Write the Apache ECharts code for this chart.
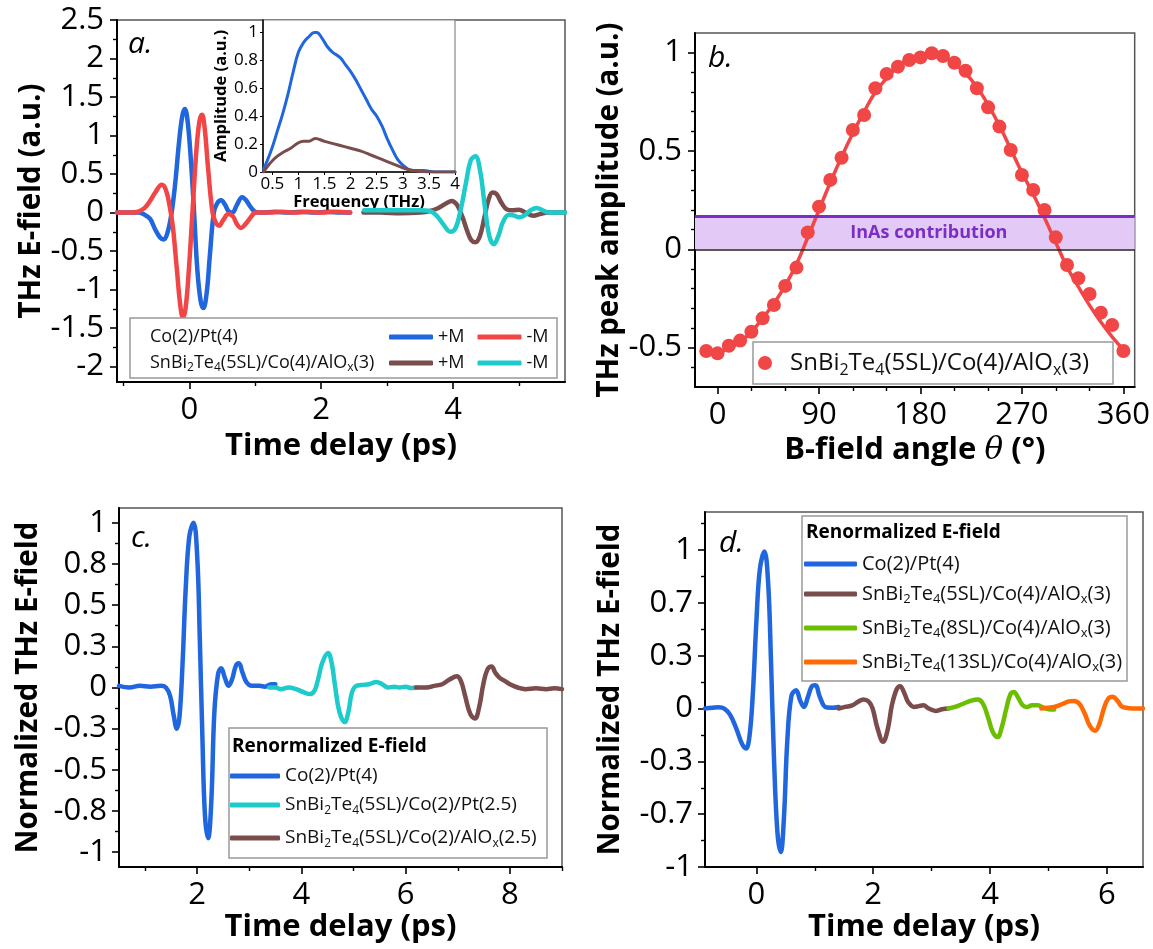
<!DOCTYPE html>
<html><head><meta charset="utf-8">
<script src="https://cdn.jsdelivr.net/npm/echarts@6.0.0/dist/echarts.min.js"></script>
<style>html,body{margin:0;padding:0;background:#fff}#chart{width:1153px;height:949px}</style>
</head><body><div id="chart"></div>
<script>
// ---------- DATA ----------
// Panel a: THz E-field vs time delay (ps)
const aCoPlus = [[-1.1,0],[-0.9,0],[-0.78,0.0],[-0.7,-0.02],[-0.6,-0.08],[-0.52,-0.22],[-0.45,-0.32],[-0.39,-0.35],[-0.34,-0.28],[-0.28,-0.05],[-0.22,0.35],[-0.16,0.9],[-0.11,1.25],[-0.07,1.345],[-0.03,1.2],[0.02,0.7],[0.07,0.0],[0.12,-0.75],[0.17,-1.15],[0.21,-1.24],[0.26,-1.05],[0.31,-0.55],[0.37,0.0],[0.42,0.12],[0.48,0.16],[0.54,0.1],[0.6,0.01],[0.65,0.0],[0.72,0.1],[0.8,0.2],[0.86,0.16],[0.93,0.07],[1.0,0.01],[1.1,0.0],[1.3,0.01],[1.5,0.0],[1.7,0.01],[1.9,0.0],[2.1,0.01],[2.3,0.0],[2.44,0.0]];
const aCoMinus = [[-1.1,0],[-0.9,0],[-0.78,0.01],[-0.68,0.06],[-0.6,0.15],[-0.52,0.26],[-0.42,0.36],[-0.36,0.3],[-0.3,0.08],[-0.25,-0.2],[-0.19,-0.75],[-0.14,-1.2],[-0.1,-1.36],[-0.06,-1.25],[-0.01,-0.75],[0.045,0.0],[0.1,0.75],[0.15,1.18],[0.19,1.27],[0.23,1.1],[0.28,0.6],[0.35,0.0],[0.4,-0.13],[0.45,-0.17],[0.51,-0.1],[0.59,-0.02],[0.66,-0.05],[0.72,-0.15],[0.78,-0.2],[0.85,-0.15],[0.93,-0.06],[1.01,0.0],[1.2,0.0],[1.4,0.01],[1.6,0.0],[1.8,0.01],[2.0,0.0],[2.2,0.01],[2.44,0.0]];
const aSnPlus = [[2.64,0.0],[2.9,0.0],[3.2,-0.01],[3.5,0.0],[3.65,0.02],[3.78,0.06],[3.9,0.12],[3.98,0.15],[4.06,0.1],[4.14,-0.05],[4.22,-0.25],[4.28,-0.36],[4.34,-0.385],[4.41,-0.3],[4.48,-0.05],[4.54,0.17],[4.6,0.26],[4.66,0.24],[4.74,0.12],[4.82,0.04],[4.9,0.03],[5.0,0.035],[5.1,0.0],[5.22,-0.04],[5.32,-0.02],[5.45,0.0],[5.7,0.0]];
const aSnMinus = [[2.65,0.03],[2.9,0.03],[3.2,0.03],[3.5,0.03],[3.65,0.02],[3.75,-0.04],[3.85,-0.15],[3.96,-0.25],[4.04,-0.2],[4.12,0.05],[4.2,0.4],[4.27,0.68],[4.34,0.73],[4.41,0.55],[4.48,0.1],[4.55,-0.3],[4.62,-0.41],[4.69,-0.3],[4.76,-0.12],[4.85,-0.03],[4.93,-0.04],[5.0,-0.06],[5.08,-0.04],[5.18,0.03],[5.27,0.06],[5.36,0.03],[5.45,0.0],[5.55,0.0],[5.7,0.0]];
// Inset: amplitude spectra vs frequency (THz)
const insetCo = [[0.33,0.02],[0.4,0.08],[0.5,0.18],[0.6,0.3],[0.7,0.42],[0.8,0.56],[0.9,0.72],[1.0,0.86],[1.1,0.93],[1.2,0.97],[1.3,1.0],[1.35,1.0],[1.45,0.96],[1.55,0.9],[1.65,0.86],[1.8,0.82],[1.9,0.77],[2.0,0.72],[2.1,0.66],[2.2,0.59],[2.3,0.52],[2.4,0.45],[2.5,0.4],[2.6,0.33],[2.7,0.24],[2.8,0.16],[2.9,0.09],[3.0,0.05],[3.1,0.02],[3.2,0.01],[3.4,0.01],[3.6,0.0],[4.0,0.0]];
const insetSn = [[0.33,0.0],[0.45,0.06],[0.55,0.1],[0.7,0.14],[0.85,0.17],[1.0,0.21],[1.1,0.22],[1.2,0.22],[1.32,0.24],[1.5,0.22],[1.7,0.2],[1.8,0.19],[2.0,0.17],[2.2,0.15],[2.4,0.12],[2.6,0.09],[2.8,0.06],[3.0,0.03],[3.2,0.01],[3.5,0.0],[4.0,0.0]];
// Panel b: peak amplitude vs B-field angle
const bAngles = [-10,0,10,20,30,40,50,60,70,80,90,100,110,120,130,140,150,160,170,180,190,200,210,220,230,240,250,260,270,280,290,300,310,320,330,340,350,360];
const bPeak = [-0.517,-0.529,-0.49,-0.464,-0.419,-0.351,-0.283,-0.186,-0.093,0.086,0.217,0.353,0.466,0.607,0.683,0.819,0.892,0.929,0.963,0.976,0.997,0.983,0.949,0.908,0.819,0.722,0.624,0.505,0.378,0.302,0.2,0.061,-0.08,-0.147,-0.227,-0.322,-0.385,-0.517];
const bFitAngles = [0,10,20,30,40,50,60,70,80,90,100,110,120,130,140,150,160,170,180,190,200,210,220,230,240,250,260,270,280,290,300,310,320,330,340,350,360];
const bFit = [-0.525,-0.505,-0.47,-0.42,-0.35,-0.275,-0.185,-0.075,0.06,0.2,0.34,0.47,0.59,0.7,0.8,0.87,0.93,0.97,0.99,0.995,0.98,0.945,0.895,0.825,0.735,0.63,0.51,0.39,0.28,0.16,0.035,-0.09,-0.19,-0.285,-0.37,-0.445,-0.51];
const bInAsLevel = 0.165;
// Panel c: normalized E-field vs time delay
const cCoPt = [[0.5,0.01],[0.7,0.0],[0.9,0.01],[1.1,0.005],[1.3,0.01],[1.4,0.0],[1.48,-0.05],[1.55,-0.17],[1.61,-0.25],[1.66,-0.18],[1.72,0.15],[1.78,0.6],[1.85,0.92],[1.93,1.0],[2.0,0.8],[2.05,0.3],[2.1,-0.3],[2.15,-0.78],[2.21,-0.915],[2.27,-0.7],[2.33,-0.15],[2.4,0.08],[2.46,0.117],[2.53,0.06],[2.6,0.01],[2.67,0.05],[2.74,0.13],[2.8,0.147],[2.87,0.09],[2.95,0.03],[3.05,0.01],[3.2,0.01],[3.3,0.005],[3.42,0.02],[3.5,0.02]];
const cSnPt = [[3.38,0.0],[3.5,0.0],[3.6,-0.01],[3.75,0.0],[3.9,-0.01],[4.05,-0.03],[4.16,-0.04],[4.25,-0.02],[4.32,0.05],[4.4,0.15],[4.51,0.21],[4.58,0.15],[4.65,0.0],[4.73,-0.15],[4.83,-0.21],[4.9,-0.15],[4.97,-0.03],[5.05,0.01],[5.15,0.015],[5.3,0.02],[5.44,0.034],[5.55,0.02],[5.66,0.0],[5.78,0.005],[5.88,0.0],[6.0,0.005],[6.1,-0.003],[6.2,0.0]];
const cSnAlO = [[6.2,0.0],[6.4,0.0],[6.55,0.01],[6.7,0.02],[6.85,0.05],[6.98,0.068],[7.06,0.04],[7.14,-0.05],[7.24,-0.16],[7.33,-0.188],[7.41,-0.12],[7.49,0.02],[7.57,0.11],[7.65,0.128],[7.72,0.09],[7.8,0.06],[7.9,0.04],[8.0,0.02],[8.15,0.0],[8.3,-0.01],[8.5,-0.005],[8.7,-0.01],[8.85,-0.005],[9.0,-0.01]];
// Panel d
const dCoPt = [[-0.88,0.0],[-0.75,0.005],[-0.65,0.008],[-0.55,0.0],[-0.45,-0.04],[-0.35,-0.12],[-0.25,-0.22],[-0.18,-0.253],[-0.12,-0.18],[-0.06,0.1],[0.0,0.55],[0.06,0.88],[0.137,0.99],[0.2,0.8],[0.25,0.3],[0.3,-0.3],[0.36,-0.78],[0.417,-0.905],[0.47,-0.7],[0.53,-0.2],[0.6,0.08],[0.68,0.116],[0.75,0.05],[0.815,0.01],[0.88,0.07],[0.95,0.14],[1.01,0.147],[1.08,0.08],[1.15,0.02],[1.21,0.006],[1.3,0.005],[1.41,0.01]];
const d5SL = [[1.41,0.0],[1.52,0.01],[1.64,0.02],[1.75,0.045],[1.83,0.057],[1.92,0.045],[1.99,0.0],[2.07,-0.12],[2.17,-0.21],[2.25,-0.13],[2.32,0.02],[2.4,0.12],[2.46,0.141],[2.53,0.1],[2.6,0.04],[2.7,0.01],[2.78,0.015],[2.86,0.02],[2.95,0.0],[3.07,-0.015],[3.18,-0.005],[3.29,0.0]];
const d8SL = [[3.29,0.0],[3.4,0.01],[3.54,0.03],[3.68,0.05],[3.79,0.057],[3.88,0.03],[3.97,-0.06],[4.05,-0.15],[4.13,-0.18],[4.2,-0.12],[4.28,0.0],[4.35,0.09],[4.41,0.105],[4.48,0.07],[4.56,0.02],[4.63,0.01],[4.72,0.02],[4.82,0.02],[4.92,0.005],[5.0,-0.004],[5.1,-0.006]];
const d13SL = [[4.88,0.0],[5.0,0.005],[5.1,0.01],[5.25,0.03],[5.35,0.045],[5.44,0.048],[5.53,0.03],[5.62,-0.03],[5.71,-0.11],[5.8,-0.14],[5.87,-0.1],[5.95,0.0],[6.02,0.06],[6.1,0.074],[6.18,0.05],[6.25,0.015],[6.31,0.006],[6.45,0.0],[6.62,0.0]];

// Ticks
const aXTicks = [0,2,4], aXMinor = [-1,1,3,5];
const aYTicks = [-2,-1.5,-1,-0.5,0,0.5,1,1.5,2,2.5], aYMinor = [-1.75,-1.25,-0.75,-0.25,0.25,0.75,1.25,1.75,2.25];
const insetXTicks = [0.5,1,1.5,2,2.5,3,3.5,4];
const insetYTicks = [0,0.2,0.4,0.6,0.8,1], insetYMinor = [0.1,0.3,0.5,0.7,0.9];
const bXTicks = [0,90,180,270,360], bXMinor = [30,60,120,150,210,240,300,330];
const bYTicks = [-0.5,0,0.5,1], bYMinor = [-0.6,-0.4,-0.3,-0.2,-0.1,0.1,0.2,0.3,0.4,0.6,0.7,0.8,0.9];
const cXTicks = [2,4,6,8], cXMinor = [1,3,5,7,9];
const cYTicks = [-1,-0.75,-0.5,-0.25,0,0.25,0.5,0.75,1];
const cYLabels = ['-1','-0.8','-0.5','-0.3','0','0.3','0.5','0.8','1'];
const cYMinor = [-0.875,-0.625,-0.375,-0.125,0.125,0.375,0.625,0.875];
const dXTicks = [0,2,4,6], dXMinor = [1,3,5];
const dYTicks = [-1,-0.6667,-0.3333,0,0.3333,0.6667,1];
const dYLabels = ['-1','-0.7','-0.3','0','0.3','0.7','1'];
const dYMinor = [-0.8333,-0.5,-0.1667,0.1667,0.5,0.8333,1.1667];

// Legend labels
const legendNames = ['aBlue','aRed','aBrown','aCyan','bPts','cBlue','cCyan','cBrown','dBlue','dBrown','dGreen','dOrange'];
const legendTexts = ['+M','-M','+M','-M',
  '{n|SnBi}{s|2}{n|Te}{s|4}{n|(5SL)/Co(4)/AlO}{s|x}{n|(3)}',
  '{n|Co(2)/Pt(4)}',
  '{n|SnBi}{s|2}{n|Te}{s|4}{n|(5SL)/Co(2)/Pt(2.5)}',
  '{n|SnBi}{s|2}{n|Te}{s|4}{n|(5SL)/Co(2)/AlO}{s|x}{n|(2.5)}',
  '{n|Co(2)/Pt(4)}',
  '{n|SnBi}{s|2}{n|Te}{s|4}{n|(5SL)/Co(4)/AlO}{s|x}{n|(3)}',
  '{n|SnBi}{s|2}{n|Te}{s|4}{n|(8SL)/Co(4)/AlO}{s|x}{n|(3)}',
  '{n|SnBi}{s|2}{n|Te}{s|4}{n|(13SL)/Co(4)/AlO}{s|x}{n|(3)}'];
const aRowLabels = ['Co(2)/Pt(4)', '{n|SnBi}{s|2}{n|Te}{s|4}{n|(5SL)/Co(4)/AlO}{s|x}{n|(3)}'];
const legendTitle = 'Renormalized E-field';

// ---------- STYLE ----------
const FF = "'Open Sans', sans-serif";
const C = {blue:'#1F66DF', red:'#F24646', brown:'#7A4C4C', cyan:'#1DCBCB', green:'#6BBE00', orange:'#FF6A05', dot:'#F04646', purple:'#7B2EC4', band:'#E3CAF6'};
const TICK = 31, XTITLE = 31, YTITLE = 29.5;

function lab(ticks, labels) {
  return v => { let bi = 0; ticks.forEach((t,i)=>{ if (Math.abs(t-v) < Math.abs(ticks[bi]-v)) bi = i; }); return labels[bi]; };
}
function rich(fs, lh) {
  return { n:{fontSize:fs, fontFamily:FF, color:'#111', lineHeight:lh},
           s:{fontSize:Math.round(fs*0.65), fontFamily:FF, color:'#111', lineHeight:Math.round(fs*0.65), verticalAlign:'bottom'} };
}
const nameMap = {}; legendNames.forEach((n,i)=>nameMap[n]=legendTexts[i]);

function mainAxis(dim, grid, min, max, ticks, opts) {
  opts = opts || {};
  return Object.assign({
    type:'value', gridIndex:grid, min:min, max:max, position: dim==='x'?'bottom':'left',
    axisLine:{show:true, onZero:false, lineStyle:{color:'#000', width:2}},
    axisTick:{show:true, inside:false, length:7, customValues:ticks, lineStyle:{color:'#000', width:1.6}},
    axisLabel:{show:true, customValues:ticks, fontFamily:FF, fontSize:TICK, color:'#000', margin:13},
    splitLine:{show:false},
    nameLocation:'middle',
    nameTextStyle:{fontFamily:FF, fontSize: dim==='x'?XTITLE:YTITLE, fontWeight:'bold', color:'#000'}
  }, opts);
}
function minorAxis(dim, grid, min, max, ticks) {
  return {type:'value', gridIndex:grid, min:min, max:max, position: dim==='x'?'bottom':'left', offset:0,
    axisLine:{show:false, onZero:false}, axisTick:{show:true, length:4, customValues:ticks, lineStyle:{color:'#000', width:1.4}},
    axisLabel:{show:false}, splitLine:{show:false}};
}

const xAxes = [
  mainAxis('x',0,-1.1,5.7,aXTicks,{name:'Time delay (ps)', nameGap:49}),
  minorAxis('x',0,-1.1,5.7,aXMinor),
  mainAxis('x',1,0.32,4,insetXTicks,{name:'Frequency (THz)', nameGap:19,
     axisTick:{show:true,length:3,customValues:insetXTicks,lineStyle:{color:'#000',width:1}},
     axisLine:{show:true,onZero:false,lineStyle:{color:'#000',width:1.5}},
     axisLabel:{customValues:insetXTicks, fontFamily:FF, fontSize:17, color:'#000', margin:4},
     nameTextStyle:{fontFamily:FF, fontSize:16.5, fontWeight:'bold', color:'#000'}}),
  mainAxis('x',2,-20,370,bXTicks,{name:'B-field angle {i|θ} (°)', nameGap:48,
     nameTextStyle:{fontFamily:FF, fontSize:XTITLE, fontWeight:'bold', color:'#000',
       rich:{i:{fontFamily:"'DejaVu Serif', serif", fontStyle:'italic', fontWeight:'normal', fontSize:XTITLE, color:'#000'}}}}),
  minorAxis('x',2,-20,370,bXMinor),
  mainAxis('x',3,0.5,9,cXTicks,{name:'Time delay (ps)', nameGap:44}),
  minorAxis('x',3,0.5,9,cXMinor),
  mainAxis('x',4,-0.88,6.62,dXTicks,{name:'Time delay (ps)', nameGap:42}),
  minorAxis('x',4,-0.88,6.62,dXMinor)
];
const yAxes = [
  mainAxis('y',0,-2.2,2.5,aYTicks,{name:'THz E-field (a.u.)', nameGap:69}),
  minorAxis('y',0,-2.2,2.5,aYMinor),
  mainAxis('y',1,0,1.09,insetYTicks,{name:'Amplitude (a.u.)', nameGap:30,
     axisTick:{show:true,length:3,customValues:insetYTicks,lineStyle:{color:'#000',width:1}},
     axisLine:{show:true,onZero:false,lineStyle:{color:'#000',width:1.5}},
     axisLabel:{customValues:insetYTicks, fontFamily:FF, fontSize:17, color:'#000', margin:5},
     nameTextStyle:{fontFamily:FF, fontSize:16.5, fontWeight:'bold', color:'#000'}}),
  mainAxis('y',2,-0.7,1.1,bYTicks,{name:'THz peak amplitude (a.u.)', nameGap:66}),
  minorAxis('y',2,-0.7,1.1,bYMinor),
  mainAxis('y',3,-1.09,1.09,cYTicks,{name:'Normalized THz E-field', nameGap:75,
     axisLabel:{customValues:cYTicks, formatter:lab(cYTicks,cYLabels), fontFamily:FF, fontSize:TICK, color:'#000', margin:12}}),
  minorAxis('y',3,-1.09,1.09,cYMinor),
  mainAxis('y',4,-1,1.24,dYTicks,{name:'Normalized THz E-field', nameGap:79,
     axisLabel:{customValues:dYTicks, formatter:lab(dYTicks,dYLabels), fontFamily:FF, fontSize:TICK, color:'#000', margin:12}}),
  minorAxis('y',4,-1,1.24,dYMinor)
];

function wave(name, data, color, axisIdx, width) {
  return {name:name, type:'line', xAxisIndex:axisIdx, yAxisIndex:axisIdx, data:data, showSymbol:false, symbol:'none',
    smooth:0.4, lineStyle:{color:color, width:width||4.5, cap:'round', join:'round'}, itemStyle:{color:color}, z:2};
}

const series = [
  wave('aBlue', aCoPlus, C.blue, 0), wave('aRed', aCoMinus, C.red, 0),
  wave('aBrown', aSnPlus, C.brown, 0), wave('aCyan', aSnMinus, C.cyan, 0),
  wave('insetBlue', insetCo, C.blue, 2, 3), wave('insetBrown', insetSn, C.brown, 2, 3),
  {name:'bFit', type:'line', xAxisIndex:3, yAxisIndex:3, data:bFitAngles.map((a,i)=>[a,bFit[i]]),
    showSymbol:false, symbol:'none', smooth:0.4, lineStyle:{color:C.dot, width:3.5}, z:2,
    markArea:{silent:true, itemStyle:{color:C.band}, label:{show:true, position:'inside', offset:[14,0], color:C.purple, fontFamily:FF, fontWeight:'bold', fontSize:18},
      data:[[{yAxis:0, name:'InAs contribution'},{yAxis:bInAsLevel}]]},
    markLine:{silent:true, symbol:['none','none'], label:{show:false},
      data:[{yAxis:0, lineStyle:{color:'#222', width:1.5, type:'solid'}},{yAxis:bInAsLevel, lineStyle:{color:C.purple, width:3, type:'solid'}}]}},
  {name:'bPts', type:'scatter', xAxisIndex:3, yAxisIndex:3, data:bAngles.map((a,i)=>[a,bPeak[i]]), symbol:'circle', symbolSize:14, itemStyle:{color:C.dot, opacity:1}, z:4},
  wave('cBlue', cCoPt, C.blue, 5), wave('cCyan', cSnPt, C.cyan, 5), wave('cBrown', cSnAlO, C.brown, 5),
  wave('dBlue', dCoPt, C.blue, 7), wave('dBrown', d5SL, C.brown, 7), wave('dGreen', d8SL, C.green, 7), wave('dOrange', d13SL, C.orange, 7)
];

function lg(names, left, top, fs, iw, ih, icon, lh) {
  return {data:names, left:left, top:top, orient:'horizontal', padding:0, itemGap:13, itemWidth:iw, itemHeight:ih,
    icon:icon||'roundRect', selectedMode:false, z:10,
    formatter: n => nameMap[n],
    textStyle:{fontFamily:FF, fontSize:fs, color:'#111', lineHeight:lh, rich:rich(fs, lh)}};
}
const legends = [
  lg(['aBlue','aRed'], 389, 326, 18, 44, 5, 'roundRect', 22),
  lg(['aBrown','aCyan'], 389, 352, 18, 44, 5, 'roundRect', 22),
  lg(['bPts'], 758, 348, 24, 40, 14, 'circle', 30),
  lg(['cBlue'], 230, 764, 19, 50, 5, 'roundRect', 24),
  lg(['cCyan'], 230, 793, 19, 50, 5, 'roundRect', 24),
  lg(['cBrown'], 230, 826, 19, 50, 5, 'roundRect', 24),
  lg(['dBlue'], 804, 552, 20, 53, 5, 'roundRect', 24),
  lg(['dBrown'], 804, 582, 20, 53, 5, 'roundRect', 24),
  lg(['dGreen'], 804, 616, 20, 53, 5, 'roundRect', 24),
  lg(['dOrange'], 804, 650, 20, 53, 5, 'roundRect', 24)
];

function box(x,y,w,h){ return {type:'rect', shape:{x:x,y:y,width:w,height:h}, style:{fill:'#fff', stroke:'#999', lineWidth:1.5}, z:5, silent:true}; }
function txt(x,y,t,o){ return {type:'text', x:x, y:y, z:11, silent:true, style:Object.assign({text:t, fontFamily:FF, fill:'#111', verticalAlign:'middle', align:'left'}, o)}; }
const graphics = [
  box(130,318,427,60), box(753,342,360,42), box(229,728,318,130), box(802,516,325,165),
  txt(128,44,'a.',{fontSize:30, fontStyle:'italic', fill:'#000'}),
  txt(708,58,'b.',{fontSize:30, fontStyle:'italic', fill:'#000'}),
  txt(131,538,'c.',{fontSize:30, fontStyle:'italic', fill:'#000'}),
  txt(719,543,'d.',{fontSize:30, fontStyle:'italic', fill:'#000'}),
  txt(150,337,aRowLabels[0],{fontSize:18}),
  txt(150,363,aRowLabels[1],{fontSize:18, rich:rich(18,22)}),
  txt(232,747,legendTitle,{fontSize:19, fontWeight:'bold', fill:'#000'}),
  txt(806,533,legendTitle,{fontSize:19, fontWeight:'bold', fill:'#000'})
];

const option = {
  animation:false, backgroundColor:'#fff',
  textStyle:{fontFamily:FF},
  grid:[
    {left:117, top:20, width:448, height:362, show:true, borderColor:'#555', borderWidth:1.5},
    {left:263, top:20, width:192, height:152, show:true, borderColor:'#888', borderWidth:1.2, backgroundColor:'#fff'},
    {left:695, top:33, width:443, height:354, show:true, borderColor:'#555', borderWidth:1.5},
    {left:119, top:508, width:443, height:359, show:true, borderColor:'#555', borderWidth:1.5},
    {left:705, top:512, width:438, height:355, show:true, borderColor:'#555', borderWidth:1.5}
  ],
  xAxis:xAxes, yAxis:yAxes, legend:legends, series:series, graphic:graphics
};
const chart = echarts.init(document.getElementById('chart'), null, {renderer:'canvas'});
chart.setOption(option);
</script></body></html>
